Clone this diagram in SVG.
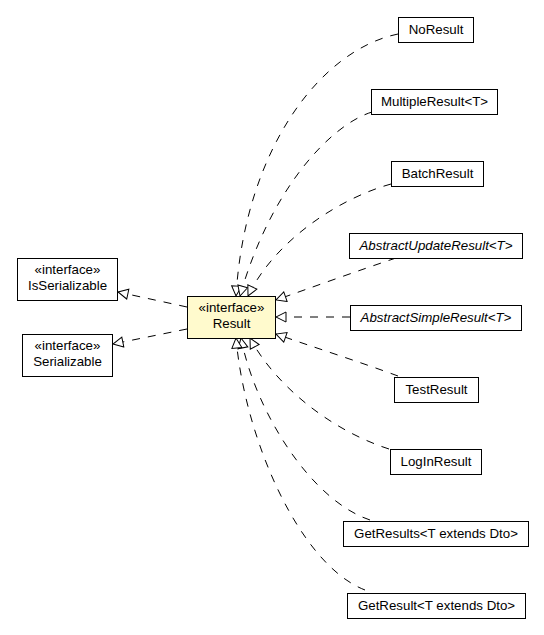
<svg xmlns="http://www.w3.org/2000/svg" width="544" height="635" viewBox="0 0 544 635">
  <style>
    .box { fill: #ffffff; stroke: #000000; stroke-width: 1; }
    .focus { fill: #fffacd; stroke: #000000; stroke-width: 1; }
    text { font-family: "Liberation Sans", Arial, sans-serif; font-size: 13.3px; fill: #000000; text-anchor: middle; }
    .abstract { font-style: italic; }
    .edge { fill: none; stroke: #000000; stroke-width: 1; stroke-dasharray: 8,8; marker-end: url(#realize); }
  </style>
  <defs>
    <marker id="realize" markerUnits="userSpaceOnUse" markerWidth="14" markerHeight="14" refX="11" refY="6" orient="auto" viewBox="0 0 14 12">
      <path d="M1,1 L11,6 L1,11 Z" fill="#ffffff" stroke="#000000" stroke-width="1" stroke-dasharray="none"/>
    </marker>
  </defs>
  <rect width="544" height="635" fill="#ffffff"/>

  <g id="connectors">
    <path class="edge" d="M398,34 C320,50 245,150 236,296"/>
    <path class="edge" d="M372,112 C330,125 270,190 240,296"/>
    <path class="edge" d="M391,184 C340,198 275,240 248,296"/>
    <path class="edge" d="M396,258 C360,270 310,288 276,300"/>
    <path class="edge" d="M350,317 L276,317"/>
    <path class="edge" d="M398,376 C360,362 310,346 276,334"/>
    <path class="edge" d="M389,449 C330,430 275,385 250,338"/>
    <path class="edge" d="M370,520 C310,500 255,410 241,338"/>
    <path class="edge" d="M365,590 C300,565 245,440 236,338"/>
    <path class="edge" d="M187,307 L118,292"/>
    <path class="edge" d="M187,329 L113,344"/>
  </g>

  <g id="Result">
    <rect class="focus" x="187.5" y="296.5" width="88" height="42"/>
    <text x="231.5" y="312">«interface»</text>
    <text x="231.5" y="328">Result</text>
  </g>
  <g id="IsSerializable">
    <rect class="box" x="17.5" y="258.5" width="100" height="42"/>
    <text x="67.5" y="274">«interface»</text>
    <text x="67.5" y="290">IsSerializable</text>
  </g>
  <g id="Serializable">
    <rect class="box" x="22.5" y="334.5" width="90" height="42"/>
    <text x="67.5" y="350">«interface»</text>
    <text x="67.5" y="366">Serializable</text>
  </g>
  <g id="NoResult">
    <rect class="box" x="398.5" y="17.5" width="75" height="25"/>
    <text x="436" y="34">NoResult</text>
  </g>
  <g id="MultipleResult">
    <rect class="box" x="371.5" y="89.5" width="126" height="25"/>
    <text x="434.5" y="106">MultipleResult&lt;T&gt;</text>
  </g>
  <g id="BatchResult">
    <rect class="box" x="391.5" y="161.5" width="92" height="25"/>
    <text x="437.5" y="178">BatchResult</text>
  </g>
  <g id="AbstractUpdateResult">
    <rect class="box" x="349.5" y="233.5" width="173" height="25"/>
    <text class="abstract" x="436" y="250">AbstractUpdateResult&lt;T&gt;</text>
  </g>
  <g id="AbstractSimpleResult">
    <rect class="box" x="350.5" y="305.5" width="171" height="25"/>
    <text class="abstract" x="436" y="322">AbstractSimpleResult&lt;T&gt;</text>
  </g>
  <g id="TestResult">
    <rect class="box" x="394.5" y="377.5" width="84" height="25"/>
    <text x="436.5" y="394">TestResult</text>
  </g>
  <g id="LogInResult">
    <rect class="box" x="390.5" y="449.5" width="91" height="25"/>
    <text x="436" y="466">LogInResult</text>
  </g>
  <g id="GetResults">
    <rect class="box" x="343.5" y="521.5" width="185" height="25"/>
    <text x="436" y="538">GetResults&lt;T extends Dto&gt;</text>
  </g>
  <g id="GetResult">
    <rect class="box" x="347.5" y="593.5" width="178" height="25"/>
    <text x="436.5" y="610">GetResult&lt;T extends Dto&gt;</text>
  </g>
</svg>
